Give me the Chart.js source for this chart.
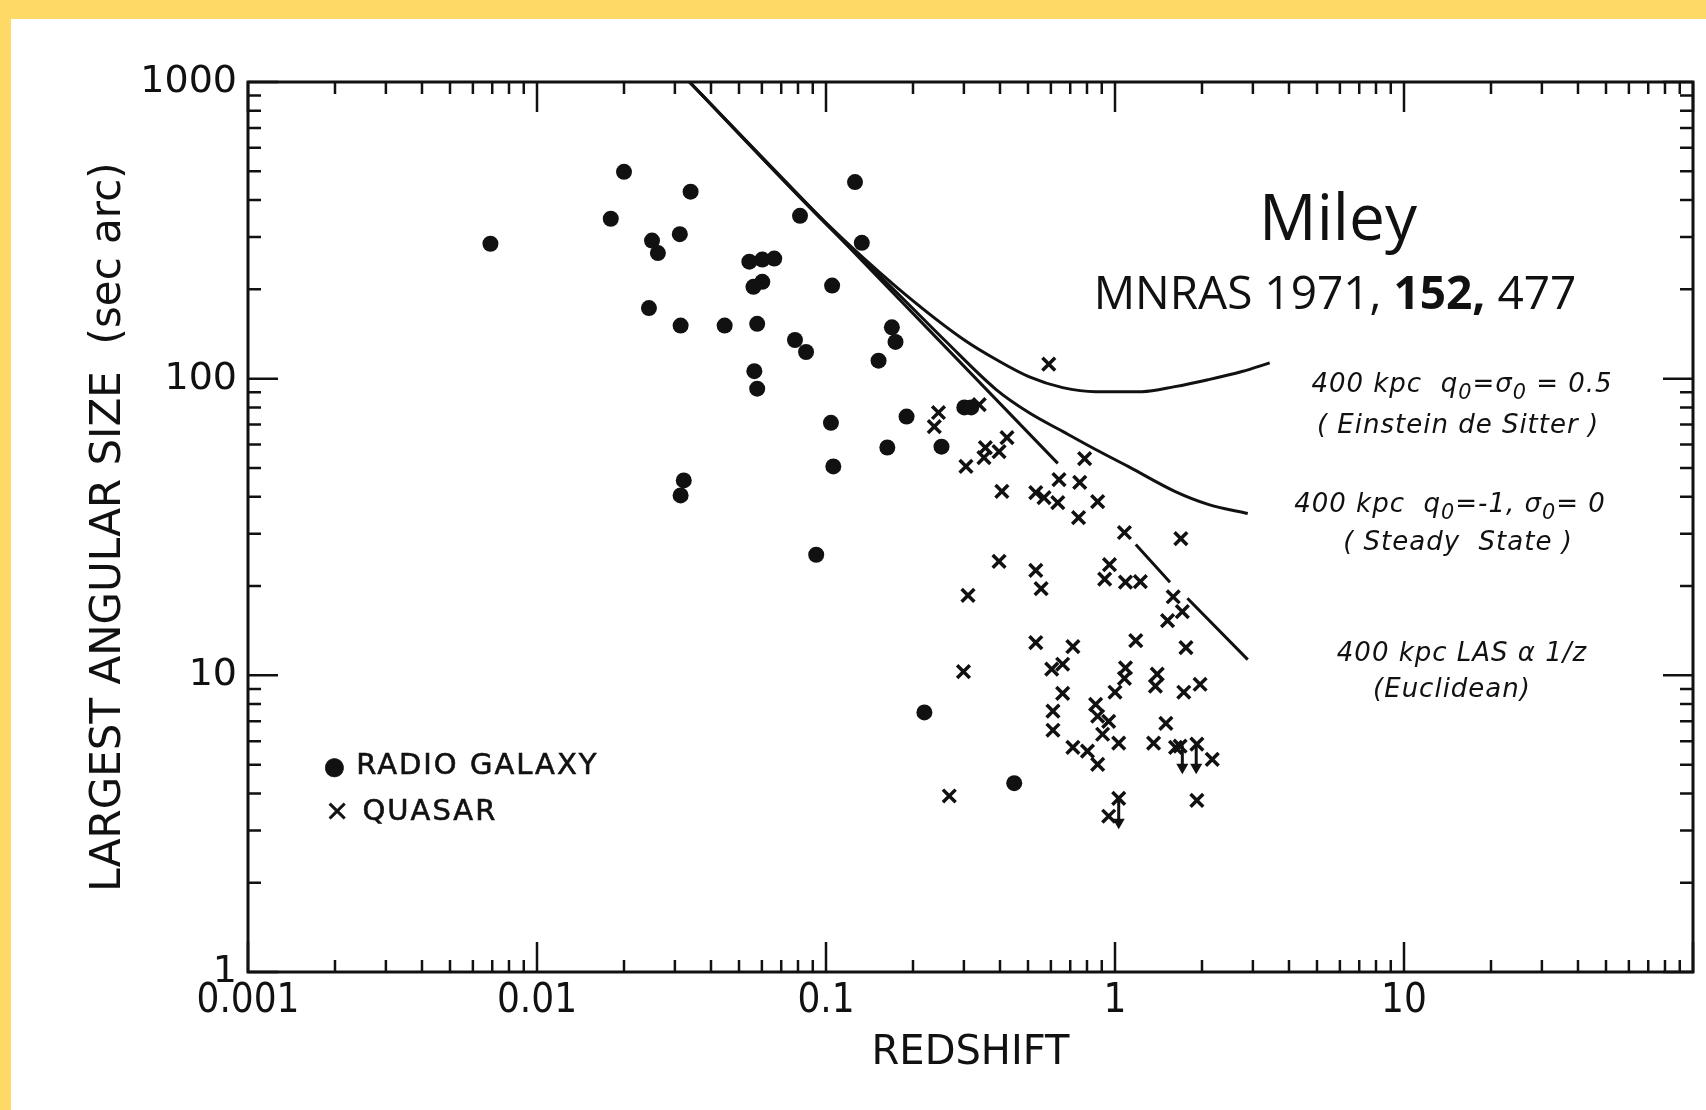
<!DOCTYPE html>
<html>
<head>
<meta charset="utf-8">
<title>Miley 1971 - Largest angular size vs redshift</title>
<script src="https://cdn.jsdelivr.net/npm/chart.js@4.4.0/dist/chart.umd.min.js"></script>
<style>
  body { margin: 0; background: #fff; }
  #wrap { position: relative; width: 1706px; height: 1110px; background: #fff; overflow: hidden; }
  .band-top { position: absolute; left: 0; top: 0; width: 1706px; height: 19px; background: #ffd966; }
  .band-left { position: absolute; left: 0; top: 0; width: 11px; height: 1110px; background: #ffd966; }
  canvas { position: absolute; left: 0; top: 0; }
  .note { position: absolute; color: #111; white-space: nowrap; }
  .ref { font-family: "Open Sans", "Noto Sans", sans-serif; text-align: center; width: 600px; }
  .model { font-family: "DejaVu Sans", sans-serif; font-style: italic; font-size: 26px; letter-spacing: 1px;
           width: 400px; text-align: center; line-height: 30px; }
  .model sub { font-size: 0.8em; vertical-align: -0.35em; }
  .legend { font-family: "DejaVu Sans", sans-serif; font-size: 29px; letter-spacing: 2px; line-height: 34px;
            -webkit-text-stroke: 0.6px #111; }
</style>
</head>
<body>
<div id="wrap">
  <div class="band-top"></div>
  <div class="band-left"></div>
  <canvas id="milleyChart" width="1706" height="1110"></canvas>

  <div class="note ref" style="left:1038px; top:176px; font-size:64px; line-height:80px;">Miley</div>
  <div class="note ref" style="left:1035px; top:261px; font-size:46px; line-height:60px;">MNRAS 1971, <b>152,</b> 477</div>

  <div class="note model" style="left:1262px; top:368px;">400 kpc&nbsp; q<sub>0</sub>=σ<sub>0</sub> = 0.5</div>
  <div class="note model" style="left:1258px; top:409px;">( Einstein de Sitter )</div>
  <div class="note model" style="left:1250px; top:488px;">400 kpc&nbsp; q<sub>0</sub>=-1, σ<sub>0</sub>= 0</div>
  <div class="note model" style="left:1258px; top:526px;">( Steady&nbsp; State )</div>
  <div class="note model" style="left:1262px; top:637px;">400 kpc LAS α 1/z</div>
  <div class="note model" style="left:1252px; top:673px;">(Euclidean)</div>

  <div class="note legend" style="left:324px; top:747px;"><span style="font-size:24px; letter-spacing:0;">●</span> RADIO GALAXY</div>
  <div class="note legend" style="left:325px; top:793px;">× QUASAR</div>
</div>

<script>
// Miley (1971) LAS - z diagram

const ink = "#111";

// radio galaxies (filled dots)
const galaxyZ = [
    0.0069, 0.0200, 0.0180, 0.0250, 0.0262, 0.0312, 0.0340, 0.0244, 0.0314, 0.0446,
    0.0578, 0.0543, 0.0602, 0.0662, 0.0561, 0.0602, 0.0565, 0.0578, 0.0813, 0.0781,
    0.0853, 0.105, 0.126, 0.133, 0.104, 0.106, 0.169, 0.174, 0.152, 0.190,
    0.163, 0.0322, 0.0314, 0.0925, 0.251, 0.301, 0.318, 0.219, 0.448,
];
const galaxyLAS = [
    285, 498, 346, 292, 265, 307, 427, 173, 151, 151,
    153, 248, 252, 254, 204, 212, 106, 92.5, 354, 135,
    123, 206, 460, 287, 71, 50.6, 149, 133, 115, 74.5,
    58.6, 45.4, 40.4, 25.5, 59, 80, 80, 7.5, 4.33,
];

// quasars (crosses)
const quasarZ = [
    0.590, 0.245, 0.237, 0.339, 0.305, 0.356, 0.352, 0.397, 0.423, 0.406,
    0.532, 0.568, 0.634, 0.640, 0.755, 0.785, 0.871, 0.748, 1.078, 1.69,
    0.397, 0.532, 0.555, 0.310, 0.957, 0.921, 1.087, 1.224, 1.59, 1.71,
    1.52, 0.532, 0.715, 1.18, 1.76, 0.299, 0.604, 0.659, 1.087, 1.078,
    1.40, 1.38, 0.659, 1.00, 1.73, 1.97, 0.610, 0.857, 0.871, 0.951,
    0.610, 0.906, 1.03, 1.50, 1.36, 0.715, 0.803, 0.871, 1.62, 1.68,
    1.92, 2.17, 0.267, 1.03, 0.951, 1.92,
];
const quasarLAS = [
    112, 76.9, 68.9, 81.7, 50.6, 58.6, 54.2, 56.8, 63.3, 41.7,
    41.3, 39.7, 38.2, 45.7, 44.7, 53.8, 38.5, 34.0, 30.3, 28.9,
    24.2, 22.6, 19.6, 18.6, 23.6, 21.1, 20.6, 20.7, 18.4, 16.4,
    15.3, 12.9, 12.5, 13.1, 12.4, 10.3, 10.5, 10.9, 10.6, 9.77,
    10.1, 9.19, 8.69, 8.77, 8.77, 9.33, 7.57, 7.98, 7.28, 7.00,
    6.53, 6.33, 5.91, 6.89, 5.91, 5.72, 5.55, 5.01, 5.72, 5.77,
    5.86, 5.21, 3.92, 3.85, 3.35, 3.79,
];

// upper-limit arrows (start, end)
const arrowZ = [1.71, 1.91, 1.03];
const arrowFrom = [5.8, 5.86, 3.85];
const arrowTo = [4.9, 4.9, 3.2];

// model curves, 400 kpc
const edsZ = [0.0337, 0.1, 0.175, 0.301, 0.388, 0.503, 0.659, 0.857, 1.24, 1.61, 2.10, 2.75, 3.43];
const edsLAS = [1000, 335, 204, 135, 116, 101.6, 93.3, 90.4, 90.4, 94.0, 99.2, 105.7, 113];

const ssZ = [0.0337, 0.1, 0.175, 0.257, 0.388, 0.503, 0.659, 0.857, 1.11, 1.61, 2.10, 2.88];
const ssLAS = [1000, 332, 196, 135, 91.9, 76.9, 66.4, 57.7, 50.6, 41.7, 37.7, 35.1];

const euclidZ = [0.0337, 0.634, null, 1.18, 1.55, null, 1.78, 2.88];
const euclidLAS = [1000, 51.8, null, 27.6, 20.6, null, 18.2, 11.3];

// axes
const xTickValues = [];
for (let d = -3; d <= 1; d++) {
    for (let m = 1; m <= 9; m++) xTickValues.push(Number((m * Math.pow(10, d)).toPrecision(6)));
}
xTickValues.push(100);
const xLabelValues = [0.001, 0.01, 0.1, 1, 10];
const xTickLabels = ["0.001", "0.01", "0.1", "1", "10"];

const yTickValues = [];
for (let d = 0; d <= 2; d++) {
    for (let m = 1; m <= 9; m++) yTickValues.push(Number((m * Math.pow(10, d)).toPrecision(6)));
}
yTickValues.push(1000);
const yLabelValues = [1, 10, 100, 1000];
const yTickLabels = ["1", "10", "100", "1000"];

function isDecade(v) {
    const l = Math.log10(v);
    return Math.abs(l - Math.round(l)) < 1e-6;
}

function labelFor(values, labels, v) {
    const i = values.findIndex((u) => Math.abs(u - v) / u < 1e-6);
    return i >= 0 ? labels[i] : "";
}

function pairs(xs, ys) {
    return xs.map((x, i) => ({ x: x == null ? xs[i - 1] : x, y: ys[i] }));
}

// arrows: top, bottom, gap
const arrowData = [];
arrowZ.forEach((z, i) => {
    arrowData.push({ x: z, y: arrowFrom[i] }, { x: z, y: arrowTo[i] }, { x: z, y: null });
});

// frame on all four sides with inward ticks
const frameTicks = {
    id: "frameTicks",
    afterDraw(chart) {
        const { ctx, chartArea: a, scales } = chart;
        ctx.save();
        ctx.strokeStyle = ink;
        ctx.lineWidth = 3;
        ctx.strokeRect(a.left, a.top, a.right - a.left, a.bottom - a.top);
        ctx.lineWidth = 2.5;
        ctx.beginPath();
        scales.x.ticks.forEach((t) => {
            const px = scales.x.getPixelForValue(t.value);
            const len = isDecade(t.value) ? 30 : 12;
            ctx.moveTo(px, a.bottom);
            ctx.lineTo(px, a.bottom - len);
            ctx.moveTo(px, a.top);
            ctx.lineTo(px, a.top + len);
        });
        scales.y.ticks.forEach((t) => {
            const py = scales.y.getPixelForValue(t.value);
            const len = isDecade(t.value) ? 30 : 13;
            ctx.moveTo(a.left, py);
            ctx.lineTo(a.left + len, py);
            ctx.moveTo(a.right, py);
            ctx.lineTo(a.right - len, py);
        });
        ctx.stroke();
        ctx.restore();
    },
};

const curveStyle = {
    type: "line",
    borderColor: ink,
    borderWidth: 3,
    pointRadius: 0,
    fill: false,
    spanGaps: false,
};

new Chart(document.getElementById("milleyChart"), {
    type: "scatter",
    data: {
        datasets: [
            { ...curveStyle, label: "Einstein de Sitter", data: pairs(edsZ, edsLAS), cubicInterpolationMode: "monotone" },
            { ...curveStyle, label: "Steady State", data: pairs(ssZ, ssLAS), cubicInterpolationMode: "monotone" },
            { ...curveStyle, label: "Euclidean", data: pairs(euclidZ, euclidLAS), tension: 0 },
            {
                ...curveStyle,
                label: "limits",
                data: arrowData,
                borderWidth: 3,
                pointStyle: "triangle",
                rotation: 180,
                pointRadius: (c) => (c.dataIndex % 3 === 1 ? 4 : 0),
                pointBackgroundColor: ink,
                pointBorderColor: ink,
            },
            {
                label: "RADIO GALAXY",
                data: pairs(galaxyZ, galaxyLAS),
                pointStyle: "circle",
                pointRadius: 8,
                backgroundColor: ink,
                borderWidth: 0,
            },
            {
                label: "QUASAR",
                data: pairs(quasarZ, quasarLAS),
                pointStyle: "crossRot",
                pointRadius: 9,
                borderColor: ink,
                borderWidth: 3.5,
            },
        ],
    },
    options: {
        responsive: false,
        animation: false,
        layout: { padding: { left: 0, top: 82, right: 13, bottom: 0 } },
        plugins: {
            legend: { display: false },
            tooltip: { enabled: false },
        },
        scales: {
            x: {
                type: "logarithmic",
                min: 0.001,
                max: 100,
                afterBuildTicks: (s) => { s.ticks = xTickValues.map((v) => ({ value: v })); },
                afterFit: (s) => { s.height = 138; },
                grid: { display: false, drawTicks: false },
                border: { display: false },
                ticks: {
                    autoSkip: false,
                    maxRotation: 0,
                    padding: 6,
                    color: ink,
                    font: { family: '"Liberation Sans Narrow", "DejaVu Sans Condensed", "DejaVu Sans", sans-serif', size: 40 },
                    callback: (v) => labelFor(xLabelValues, xTickLabels, v),
                },
                title: {
                    display: true,
                    text: "REDSHIFT",
                    color: ink,
                    padding: { top: 0, bottom: 32 },
                    font: { family: '"DejaVu Sans", sans-serif', size: 40 },
                },
            },
            y: {
                type: "logarithmic",
                min: 1,
                max: 1000,
                afterBuildTicks: (s) => { s.ticks = yTickValues.map((v) => ({ value: v })); },
                afterFit: (s) => { s.width = 248; },
                grid: { display: false, drawTicks: false },
                border: { display: false },
                ticks: {
                    autoSkip: false,
                    padding: 11,
                    color: ink,
                    font: { family: '"DejaVu Sans", sans-serif', size: 38 },
                    callback: (v) => labelFor(yLabelValues, yTickLabels, v),
                },
                title: {
                    display: true,
                    text: "LARGEST ANGULAR SIZE  (sec arc)",
                    color: ink,
                    padding: { top: 84, bottom: 0 },
                    font: { family: '"DejaVu Sans", sans-serif', size: 42 },
                },
            },
        },
    },
    plugins: [frameTicks],
});
</script>
</body>
</html>
